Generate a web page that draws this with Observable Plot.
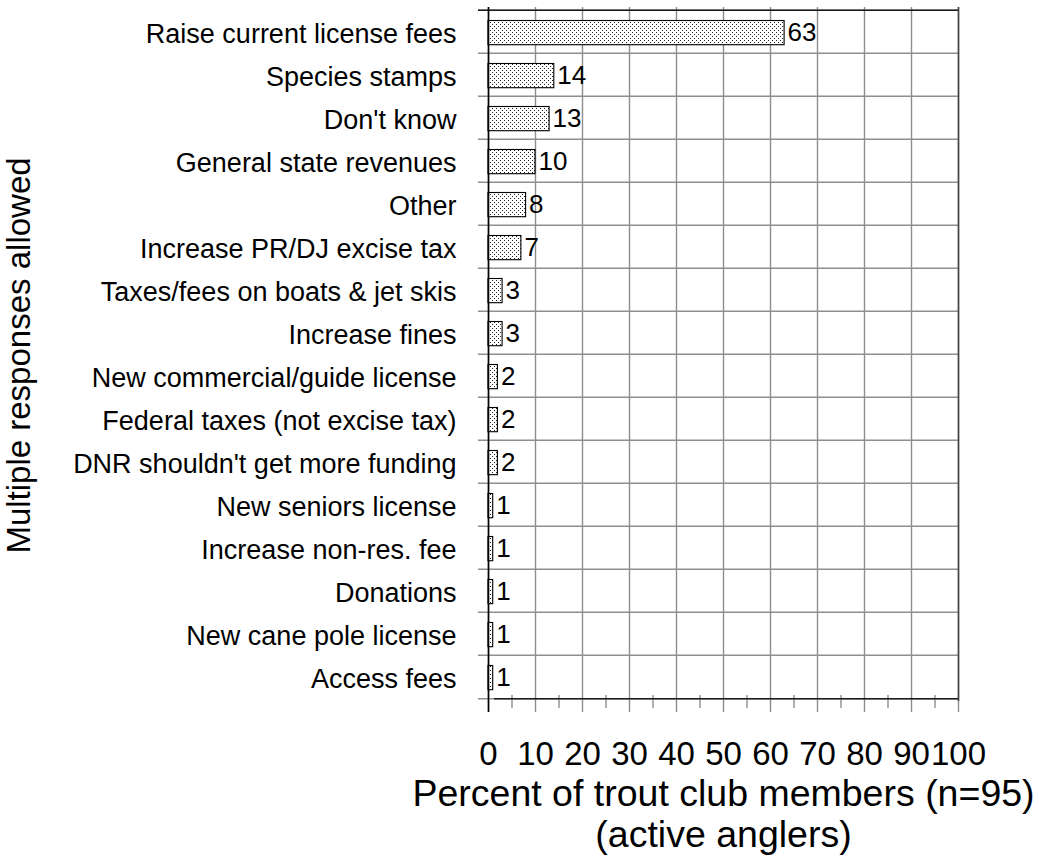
<!DOCTYPE html>
<html>
<head>
<meta charset="utf-8">
<script src="https://cdn.jsdelivr.net/npm/d3@7"></script>
<script src="https://cdn.jsdelivr.net/npm/@observablehq/plot@0.6"></script>
<style>
  html, body { margin: 0; padding: 0; background: #fff; }
</style>
</head>
<body>
<div id="chart"></div>
<script>
const categories = [
  "Raise current license fees",
  "Species stamps",
  "Don't know",
  "General state revenues",
  "Other",
  "Increase PR/DJ excise tax",
  "Taxes/fees on boats & jet skis",
  "Increase fines",
  "New commercial/guide license",
  "Federal taxes (not excise tax)",
  "DNR shouldn't get more funding",
  "New seniors license",
  "Increase non-res. fee",
  "Donations",
  "New cane pole license",
  "Access fees"
];
const values = [63, 14, 13, 10, 8, 7, 3, 3, 2, 2, 2, 1, 1, 1, 1, 1];
const xTicks = [0, 10, 20, 30, 40, 50, 60, 70, 80, 90, 100];
const minorTicks = [5, 15, 25, 35, 45, 55, 65, 75, 85, 95];
const yTitle = "Multiple responses allowed";
const xTitle1 = "Percent of trout club members (n=95)";
const xTitle2 = "(active anglers)";

const data = categories.map((c, i) => ({category: c, value: values[i]}));

const W = 1039, H = 859;
const mL = 488, mR = 81, mT = 7, mB = 158;
const plotH = H - mT - mB;
const step = plotH / categories.length;
const grid = "#8e8e8e";
const dark = "#1a1a1a";
const font = "'Liberation Sans', Arial, Helvetica, sans-serif";

const chart = Plot.plot({
  width: W,
  height: H,
  marginLeft: mL,
  marginRight: mR,
  marginTop: mT,
  marginBottom: mB,
  style: {fontFamily: font, color: "black", background: "white", overflow: "visible"},
  x: {domain: [0, 100], axis: null},
  y: {domain: categories, padding: 0, axis: null},
  marks: [
    // vertical gridlines (extend below as major ticks)
    Plot.ruleX(xTicks, {x: d => d, stroke: grid, strokeWidth: 1.4, insetBottom: -11}),
    // minor ticks
    Plot.ruleX(minorTicks, {x: d => d, stroke: grid, strokeWidth: 1.4, insetTop: plotH - 6, insetBottom: -7}),
    // horizontal row separators (extend left as ticks)
    Plot.tickY(categories, {y: d => d, dy: -step / 2, stroke: grid, strokeWidth: 1.4, insetLeft: -10}),
    Plot.tickY([categories[categories.length - 1]], {y: d => d, dy: step / 2, stroke: grid, strokeWidth: 1.4, insetLeft: -10}),
    // top border
    Plot.tickY([categories[0]], {y: d => d, dy: -step / 2, stroke: dark, strokeWidth: 1.6, insetLeft: -10}),
    // bottom axis line
    Plot.tickY([categories[categories.length - 1]], {y: d => d, dy: step / 2, stroke: dark, strokeWidth: 1.6, insetLeft: 6}),
    // right border
    Plot.ruleX([100], {x: d => d, stroke: "#444", strokeWidth: 1.6}),
    // bars
    Plot.barX(data, {
      x: "value", y: "category",
      fill: "url(#dots)", stroke: "black", strokeWidth: 1.1,
      insetTop: 10.5, insetBottom: 8.3
    }),
    // left axis line
    Plot.ruleX([0], {x: d => d, stroke: "black", strokeWidth: 1.6, insetBottom: -11}),
    // value labels
    Plot.text(data, {
      x: "value", y: "category", text: d => String(d.value),
      textAnchor: "start", dx: 3, dy: 1, fontSize: 26, fill: "black"
    }),
    // category labels
    Plot.text(categories, {
      y: d => d, text: d => d, frameAnchor: "left",
      textAnchor: "end", dx: -32, dy: 2, fontSize: 27, fill: "black"
    }),
    // x tick labels
    Plot.text(xTicks, {
      x: d => d, text: d => String(d), frameAnchor: "bottom",
      lineAnchor: "bottom", dy: 63, fontSize: 33, fill: "black"
    }),
    // x title
    Plot.text([xTitle1], {
      text: d => d, frameAnchor: "bottom", lineAnchor: "bottom",
      dy: 104, fontSize: 37.5, fill: "black"
    }),
    Plot.text([xTitle2], {
      text: d => d, frameAnchor: "bottom", lineAnchor: "bottom",
      dy: 145, fontSize: 37.5, fill: "black"
    }),
    // y title
    Plot.text([yTitle], {
      text: d => d, frameAnchor: "left", textAnchor: "middle", lineAnchor: "bottom", rotate: -90,
      dx: -(mL - 29), dy: 1, fontSize: 33, fill: "black"
    })
  ]
});

// stipple pattern for bars
const svg = d3.select(chart);
const defs = svg.insert("defs", ":first-child");
const pat = defs.append("pattern")
  .attr("id", "dots")
  .attr("patternUnits", "userSpaceOnUse")
  .attr("width", 4)
  .attr("height", 4);
pat.append("rect").attr("width", 4).attr("height", 4).attr("fill", "#ffffff");
pat.append("rect").attr("x", 0).attr("y", 0).attr("width", 1).attr("height", 1).attr("fill", "#222222");
pat.append("rect").attr("x", 2).attr("y", 2).attr("width", 1).attr("height", 1).attr("fill", "#222222");

document.getElementById("chart").appendChild(chart);
</script>
</body>
</html>
